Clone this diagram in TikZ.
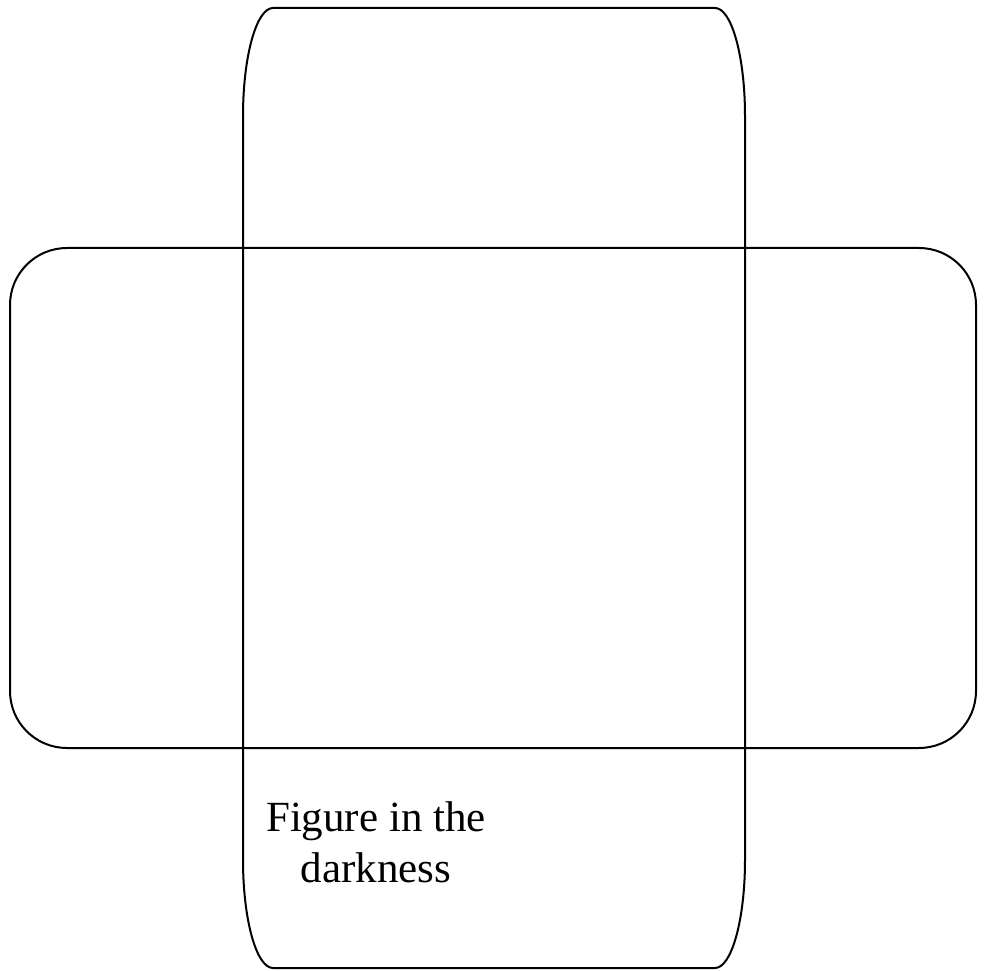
\documentclass[tikz,border=0pt]{standalone}
\usepackage{fontspec}
\setmainfont{Liberation Serif}
\begin{document}
\begin{tikzpicture}[x=1pt,y=1pt,
  outline/.style={draw=black,line width=2pt,line join=round},
  label/.style={font=\fontsize{43}{51}\selectfont,anchor=base,inner sep=0pt}]
\useasboundingbox (0,0) rectangle (985,970);
% vertical panel (elliptical corners)
\draw[outline] (273,962) -- (715,962)
  arc[start angle=90,end angle=0,x radius=30,y radius=108]
  -- (745,110)
  arc[start angle=0,end angle=-90,x radius=30,y radius=108]
  -- (273,2)
  arc[start angle=270,end angle=180,x radius=30,y radius=108]
  -- (243,854)
  arc[start angle=180,end angle=90,x radius=30,y radius=108]
  -- cycle;
% horizontal panel
\draw[outline,rounded corners=57pt] (10,222) rectangle (976,722);
% text
\node[label] (l1) at (376,139) {Figure in the};
\node[label] (l2) at (376,88) {darkness};
\end{tikzpicture}
\end{document}
